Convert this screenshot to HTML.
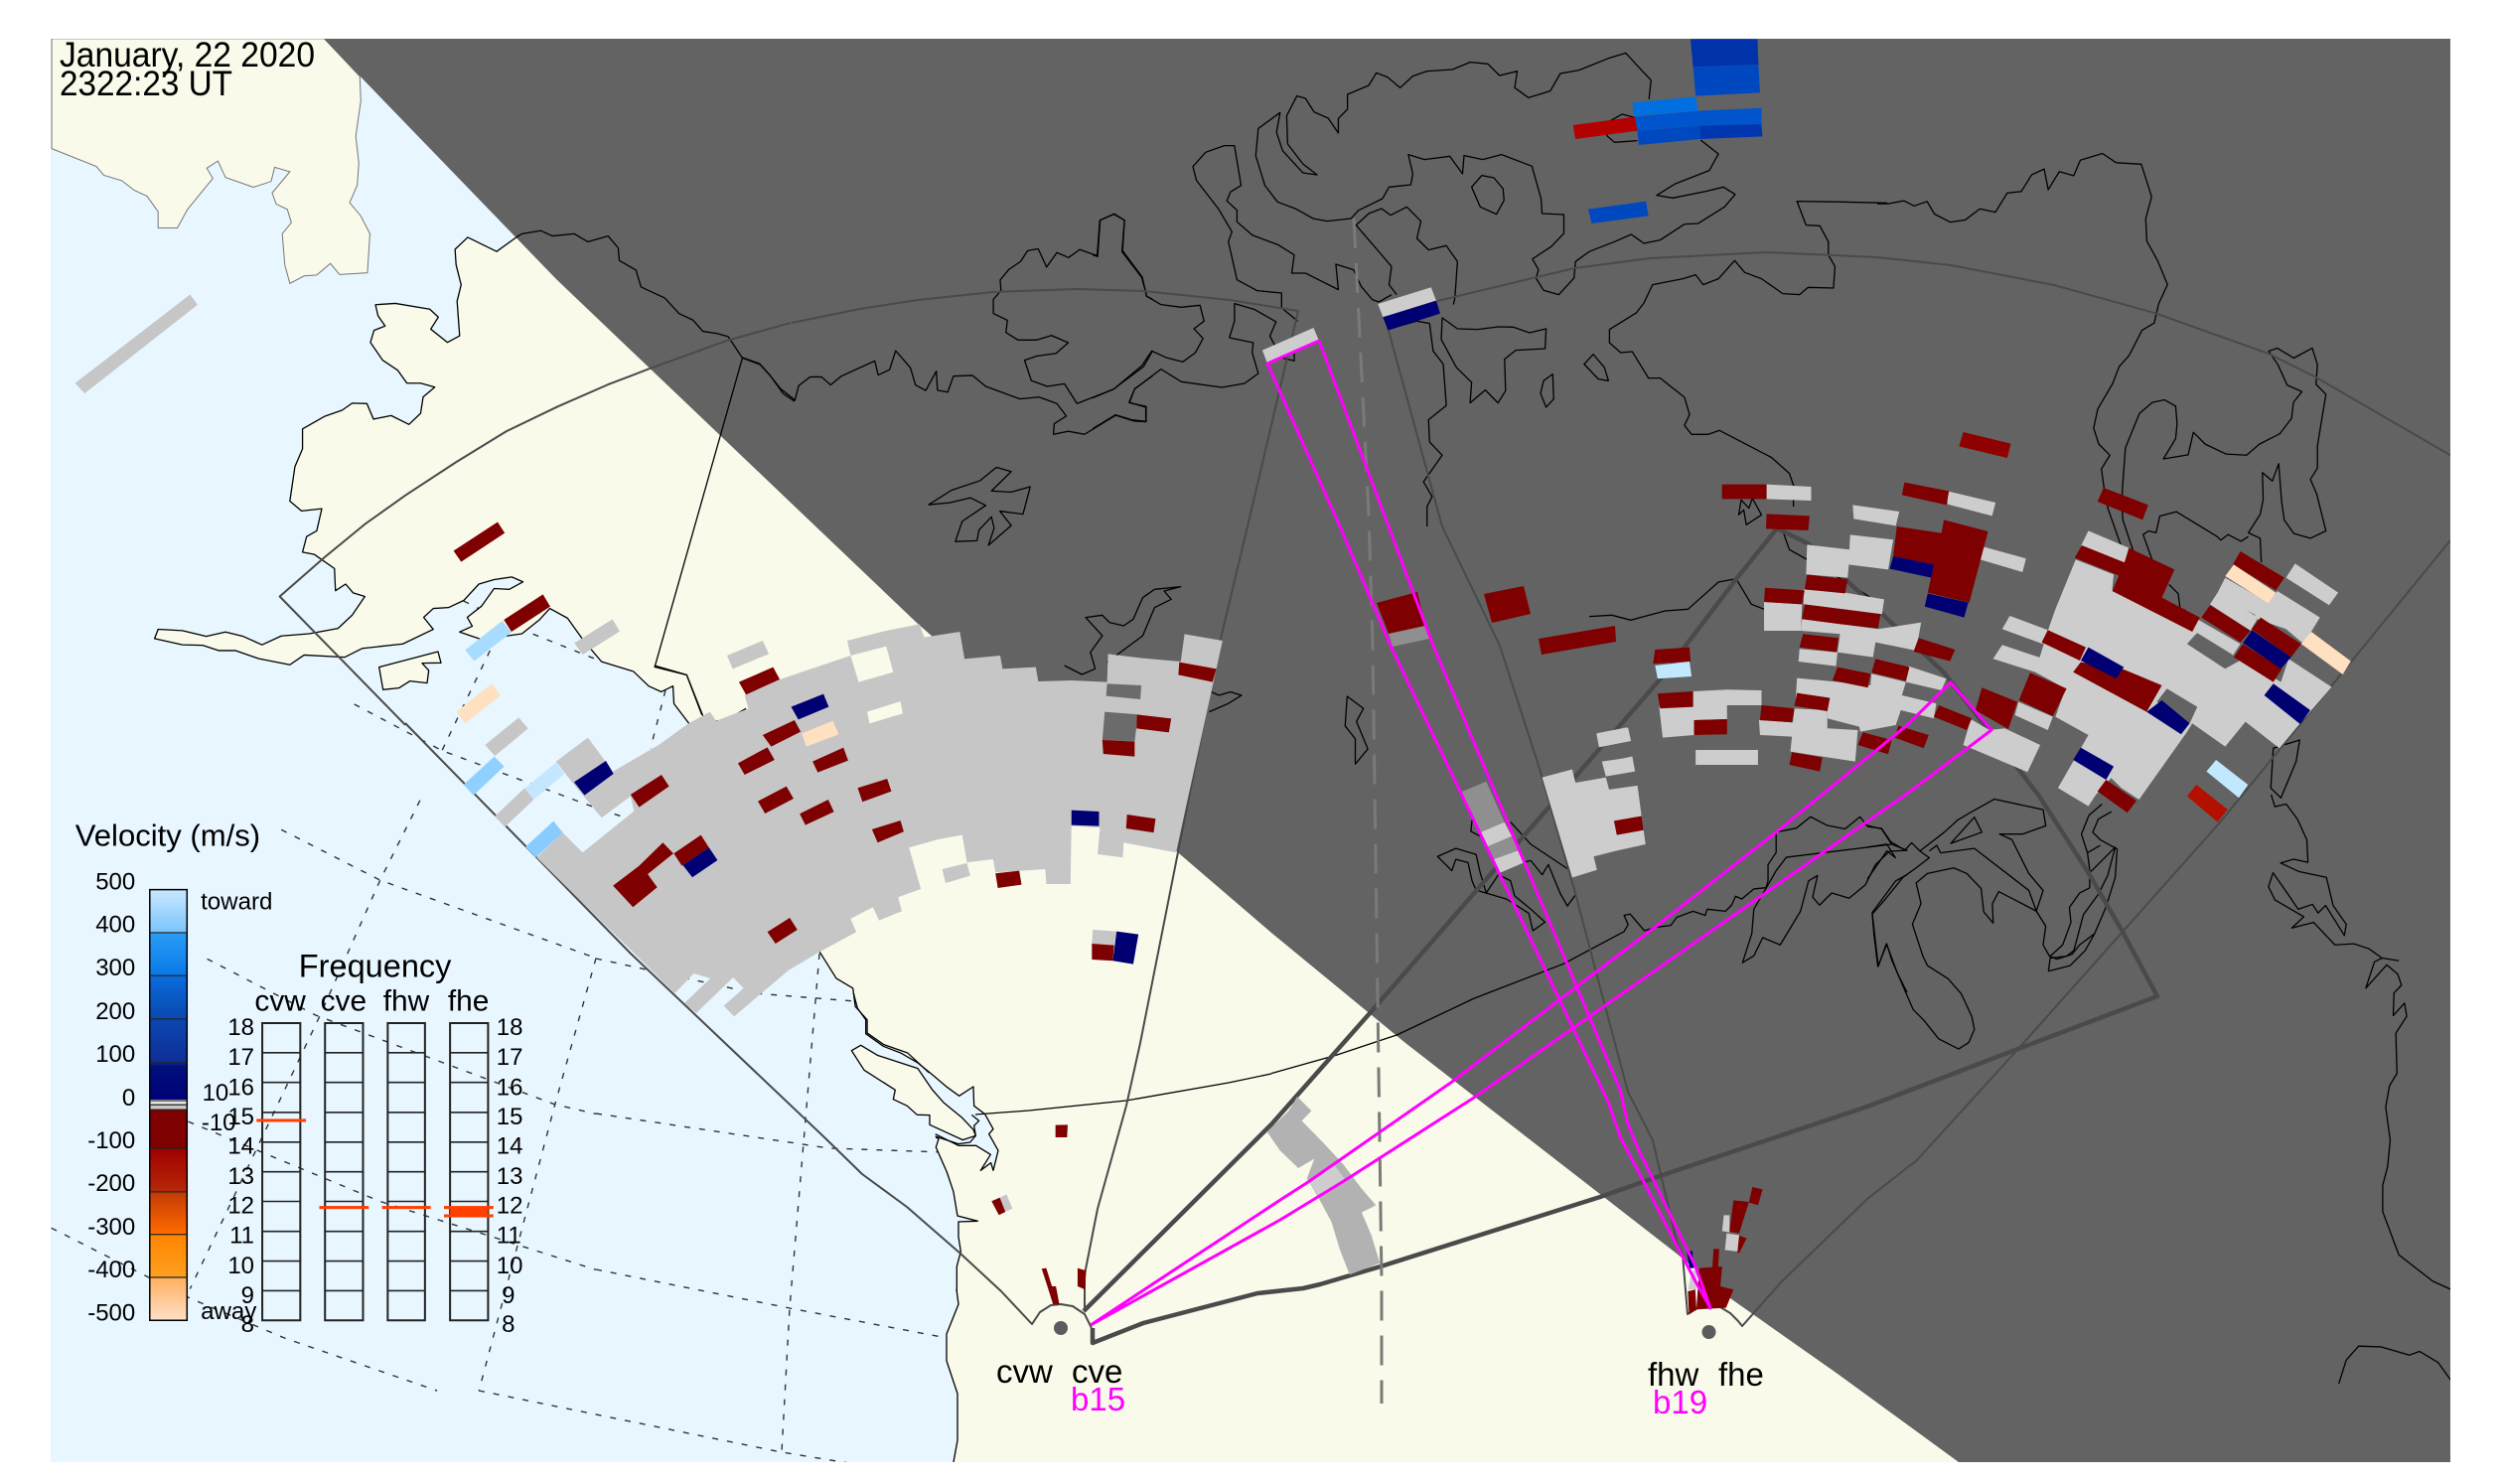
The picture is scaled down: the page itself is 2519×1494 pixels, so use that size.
<!DOCTYPE html>
<html><head><meta charset="utf-8"><style>
html,body{margin:0;padding:0;background:#fff}
svg{display:block}
polygon,polyline,line,rect{vector-effect:non-scaling-stroke}
text{font-family:"Liberation Sans",sans-serif;fill:#000}
.c{fill:none;stroke:#000;stroke-width:1.3;stroke-linejoin:round}
.f{fill:none;stroke:#4a4a4a;stroke-width:2;stroke-linejoin:round}
.t{fill:none;stroke:#4a4a4a;stroke-width:4.5;stroke-linejoin:round}
.d{fill:none;stroke:#333;stroke-width:1.4;stroke-dasharray:6 9}
.m{fill:none;stroke:#f0f;stroke-width:3;stroke-linejoin:round}
.land{fill:#f9faea}
</style></head><body>
<svg xmlns="http://www.w3.org/2000/svg" width="2519" height="1494" viewBox="0 0 2519 1494">
<defs>
<clipPath id="p"><rect x="51" y="39" width="2416" height="1433"/></clipPath>
<linearGradient id="cb" x1="0" y1="0" x2="0" y2="1">
<stop offset="0" stop-color="#c8e8ff"/><stop offset=".098" stop-color="#7cc4fb"/>
<stop offset=".1" stop-color="#2a9cf5"/><stop offset=".197" stop-color="#0a7ae8"/>
<stop offset=".2" stop-color="#0a6cdc"/><stop offset=".3" stop-color="#0a48b0"/>
<stop offset=".4" stop-color="#0f2e98"/><stop offset=".41" stop-color="#00107c"/><stop offset=".487" stop-color="#000078"/>
<stop offset=".488" stop-color="#e4e4e4"/><stop offset=".498" stop-color="#e4e4e4"/><stop offset=".499" stop-color="#c8c8c8"/><stop offset=".509" stop-color="#c8c8c8"/>
<stop offset=".51" stop-color="#7f0000"/><stop offset=".6" stop-color="#7f0000"/>
<stop offset=".601" stop-color="#a00000"/><stop offset=".7" stop-color="#b52808"/>
<stop offset=".702" stop-color="#c23a05"/><stop offset=".798" stop-color="#ff6a00"/>
<stop offset=".8" stop-color="#ff8400"/><stop offset=".9" stop-color="#ffa020"/>
<stop offset=".902" stop-color="#ffb060"/><stop offset="1" stop-color="#ffe0c8"/>
</linearGradient>
</defs>
<rect width="2519" height="1494" fill="#fff"/>
<g clip-path="url(#p)">
<rect x="51" y="39" width="2416" height="1433" fill="#e8f6ff"/>

<!-- lat/lon dashes on ocean -->
<g transform="translate(0,800) scale(.3827)">
<polyline class="d" points="740,92 1000,225 1568,430"/>
<polyline class="d" points="545,432 830,580 1460,815 1568,840"/>
<polyline class="d" points="495,860 1000,1070 1380,1190 1568,1250"/>
<polyline class="d" points="135,1140 500,1325 750,1430 1150,1568"/>
<polyline class="d" points="1105,15 1000,225 840,585 500,1300"/>
<polyline class="d" points="1568,430 1460,815 1260,1568"/>
</g>
<polyline class="d" points="600,965 760,1000 861,1008"/>
<polyline class="d" points="600,1121 835,1156 950,1160"/>
<polyline class="d" points="600,1278 795,1317 964,1349"/>
<polyline class="d" points="482,1400 787,1462 960,1490"/>
<polyline class="d" points="825,960 795,1317 787,1462"/>
<g transform="translate(330,560) scale(.3333)">
<polyline class="d" points="490,285 345,587"/>
<polyline class="d" points="80,447 345,587 810,760 900,790"/>
<polyline class="d" points="620,235 820,315"/>
<polyline class="d" points="410,135 470,165"/>
<polyline class="d" points="1020,405 975,580"/>
</g>

<!-- land -->
<g class="land">
<polygon transform="translate(0,30) scale(.5102,.4464)" points="102,268 190,308 205,328 240,340 265,362 290,375 312,410 312,447 350,447 370,405 420,335 408,312 430,296 445,333 500,355 535,342 542,310 572,320 537,368 545,393 567,405 575,435 557,460 562,530 572,572 600,555 625,553 652,527 670,552 725,548 730,460 712,420 690,390 705,350 708,300 702,240 712,160 710,105 640,20 102,20" style="stroke:#777;stroke-width:1"/>
<polygon transform="translate(0,30) scale(.5102,.4464)" points="1020,467 980,500 923,468 898,495 900,530 910,575 902,612 907,690 883,705 850,675 865,648 848,630 780,617 741,620 746,645 760,668 738,678 731,705 755,745 785,768 803,797 830,797 858,806 835,828 830,865 807,890 772,870 737,878 724,843 695,842 675,858 640,872 597,900 597,945 582,985 572,1063 595,1085 635,1080 625,1130 605,1143 597,1178 620,1183 660,1215 662,1265 682,1250 697,1270 720,1278 695,1320 667,1350 610,1362 555,1367 517,1387 480,1368 445,1358 407,1368 360,1355 312,1352 305,1373 360,1387 400,1388 432,1400 465,1400 510,1418 572,1432 600,1410 680,1415 715,1395 795,1385 855,1352 836,1325 855,1305 885,1303 915,1287 945,1250 975,1240 1010,1234 1032,1245 1005,1262 975,1260 950,1300 922,1325 932,1345 907,1358 950,1375 1030,1362 1065,1330 1085,1305 1120,1327 1150,1375 1187,1425 1250,1447 1280,1480 1305,1493 1328,1480 1330,1520 1360,1565 1385,1568 1568,1568 1568,467"/>
<polygon points="693,728 825,958 842,985 859,1000 2000,1000 2000,500 800,500"/>
<polygon transform="translate(830,1000) scale(.3333)" points="88,0 100,45 125,80 125,122 178,160 230,180 282,210 325,245 370,283 407,310 450,282 452,340 485,365 510,410 497,425 525,475 510,535 503,512 472,535 502,487 458,460 405,460 345,440 337,465 370,540 390,600 402,672 463,688 405,690 405,735 412,780 400,825 400,900 900,900 900,0"/>
<polygon points="963,1298 965,1313 953,1343 953,1370 964,1403 964,1450 960,1472 2000,1472 2000,1000 1130,1000 1130,1298"/>
<polygon transform="translate(830,1000) scale(.3333)" points="82,173 110,157 160,187 282,227 325,290 360,330 415,375 450,412 457,430 418,443 318,397 318,368 280,367 250,340 208,320 214,292 120,232"/>
<polygon transform="translate(330,560) scale(.3333)" points="155,335 333,288 342,322 285,323 305,345 300,383 248,377 215,398 167,403"/>
</g>

<!-- night overlay -->
<polygon points="326,39 2467,39 2467,1472 1972,1472 1850,1383 1742,1307 1688,1262 1415,1050 1280,939 1188,860 923,627 560,281" fill="#636363"/>

<!-- coastlines -->
<g transform="translate(0,30) scale(.5102,.4464)">
<polyline class="c" points="1385,1568 1360,1565 1330,1520 1328,1480 1305,1493 1280,1480 1250,1447 1187,1425 1150,1375 1120,1327 1085,1305 1065,1330 1030,1362 950,1375 907,1358 932,1345 922,1325 950,1300 975,1260 1005,1262 1032,1245 1010,1234 975,1240 945,1250 915,1287 885,1303 855,1305 836,1325 855,1352 795,1385 715,1395 680,1415 600,1410 572,1432 510,1418 465,1400 432,1400 400,1388 360,1387 305,1373 312,1352 360,1355 407,1368 445,1358 480,1368 517,1387 555,1367 610,1362 667,1350 695,1320 720,1278 697,1270 682,1250 662,1265 660,1215 620,1183 597,1178 605,1143 625,1130 635,1080 595,1085 572,1063 582,985 597,945 597,900 640,872 675,858 695,842 724,843 737,878 772,870 807,890 830,865 835,828 858,806 830,797 803,797 785,768 755,745 731,705 738,678 760,668 746,645 741,620 780,617 848,630 865,648 850,675 883,705 907,690 902,612 910,575 900,530 898,495 923,468 980,500 1020,467 1030,460 1067,453 1090,465 1133,460 1160,478 1200,465 1220,492 1222,520 1255,542 1265,580 1312,605 1340,640 1368,655 1387,680 1415,685 1437,692 1465,740 1500,755 1520,780 1545,820 1568,838"/>
<polyline class="c" points="1465,740 1292,1437 1355,1455 1385,1545"/>
</g>
<g transform="translate(500,580) scale(.4783,.3333)">
<polyline class="c" points="332,270 400,298 435,425"/>
<polyline class="c" points="462,437 480,437 525,400"/>
<polyline class="c" points="680,1135 715,1215 750,1245 755,1300 780,1340 780,1380 815,1415 865,1440 910,1500"/>
<polyline class="c" points="1195,270 1232,297 1260,280 1250,230 1275,180 1240,125 1275,118 1290,140 1320,150 1340,130 1360,65 1385,40 1440,32 1405,45 1420,70 1385,95 1360,180 1285,260"/>
<polyline class="c" points="1505,350 1520,360 1545,350 1568,360 1540,385 1500,410"/>
</g>
<g transform="translate(830,1000) scale(.3333)">
<polyline class="c" points="88,0 100,45 125,80 125,122 178,160 230,180 282,210 325,245 370,283 407,310 450,282 452,340 485,365 510,410 497,425 525,475 510,535 503,512 472,535 502,487 458,460 405,460 335,425"/>
<polyline class="c" points="337,435 345,440 337,465 370,540 390,600 402,672 463,688 405,690 405,735 412,780 400,825 400,900"/>
<polygon class="c" points="82,173 110,157 160,187 282,227 325,290 360,330 415,375 450,412 457,430 418,443 318,397 318,368 280,367 250,340 208,320 214,292 120,232"/>
<polyline class="c" points="445,367 467,385 452,400 457,430 440,450 405,455 335,432"/>
</g>
<polyline class="c" points="963,1298 965,1313 953,1343 953,1370 964,1403 964,1450 960,1472"/>
<polygon class="c" transform="translate(330,560) scale(.3333)" points="155,335 333,288 342,322 285,323 305,345 300,383 248,377 215,398 167,403"/>
<polyline class="c" points="982,1122 1036,1118 1134,1108 1237,1090 1280,1081"/>
<g transform="translate(560,40) scale(.3827)">
<polyline class="c" points="490,836 535,852 560,880 590,918 628,948 638,910 668,887 698,887 722,908 750,885 838,845 847,882 877,868 893,818 932,863 945,908 972,923 1000,872 1003,922 1030,927 1045,885 1095,883 1130,912 1220,945 1270,940 1317,957 1342,990 1310,1010 1308,1038 1347,1030 1390,1038 1472,988 1520,1003 1552,1005 1552,965 1508,955 1522,918 1568,885"/>
<polyline class="c" points="1568,820 1545,860 1465,920 1370,957 1337,905 1292,912 1250,897 1232,843 1265,832 1315,825 1347,797 1303,778 1263,790 1215,790 1183,770 1187,738 1150,720 1150,683 1170,660 1168,632 1190,605 1222,583 1240,555 1268,550 1290,598 1317,560 1348,573 1377,552 1423,568 1430,475 1468,458 1495,475 1490,555 1542,625 1553,675 1568,682"/>
<polygon class="c" points="980,1223 1040,1185 1115,1160 1158,1125 1197,1136 1145,1187 1197,1190 1247,1176 1228,1248 1167,1240 1197,1278 1137,1330 1152,1285 1145,1255 1112,1290 1107,1318 1050,1320 1068,1267 1130,1225 1090,1205 1035,1218"/>
</g>
<g transform="translate(1100,30) scale(.5102,.3333)">
<polyline class="c" points="0,680 10,685 15,575 42,557 63,575 58,670 97,748 107,805 135,830 175,838 212,832 220,880 200,903 218,932 203,975 178,1003 145,990 117,970 97,1015 42,1085 0,1112"/>
<polyline class="c" points="0,1205 45,1163 77,1178 105,1183 105,1140 72,1125 83,1085 135,1025 175,1063 255,1080 300,1068 327,1038 315,975 317,945 270,930 280,880 280,827 320,845 362,882 350,925 372,990 398,1000 398,960"/>
<polyline class="c" points="405,880 373,840 373,795 325,788 285,755 268,640 275,610 248,540 205,455 198,413 223,370 260,350 280,350 293,470 272,490 265,517 285,545 285,580 315,620 367,650 398,680 393,735 420,735 485,785 480,708 515,725 530,775 552,815 565,822 590,800"/>
<polyline class="c" points="1200,333 1235,375 1217,425 1150,465 1113,500 1145,508 1210,488 1245,475 1268,497 1247,535 1195,585 1168,587 1120,635 1088,645 1063,618 1030,640 980,670 953,700 950,750 920,800 890,787 875,750 880,725 868,692 905,655 930,615 930,558 887,555 885,510 867,412 807,377 770,392 733,380 730,435 705,382 655,392 623,377 632,435 628,468 585,475 572,510 525,545 510,570 463,578 435,570 400,540 365,520 340,470 322,380 327,298 370,250 363,310 375,365 415,432 443,438 415,405 385,345 383,260 403,200 420,207 437,248 465,267 485,312 485,268 503,240 503,195 545,168 560,130 582,143 607,175 632,140 660,125 710,120 745,98 780,103 803,138 838,125 833,175 860,205 903,185 923,132 960,122 1020,85 1052,70 1082,120 1102,152 1098,210"/>
<polyline class="c" points="1070,265 1045,255 1010,285 1015,320 1030,340 1075,335"/>
<polygon class="c" points="768,440 792,447 810,480 812,515 797,557 765,535 748,475"/>
<polyline class="c" points="712,830 715,810 720,700 698,652 663,665 640,630 648,578 620,535 588,560 570,540 545,555 520,590 590,715 585,770 600,800"/>
<polygon class="c" points="690,870 720,903 760,905 800,897 830,898 862,915 895,903 893,963 835,968 813,995 815,1090 800,1127 775,1088 745,1127 748,1065 718,1020 688,935"/>
<polyline class="c" points="582,905 640,880 665,887 672,970 692,1010 698,1135 663,1178 665,1245 690,1285 653,1365 670,1410 660,1440 660,1500"/>
<polygon class="c" points="988,980 1010,1020 1018,1060 998,1055 970,1010"/>
<polygon class="c" points="908,1040 910,1115 895,1140 884,1098 890,1060"/>
<polyline class="c" points="1568,523 1480,520 1390,518 1408,590 1435,592 1452,640 1452,680 1465,715 1462,780 1412,778 1395,800 1362,797 1320,752 1287,733 1267,697 1235,752 1205,770 1190,740 1165,752 1105,770 1088,825 1073,855 1020,905 1020,945 1042,975 1065,972 1097,1052 1120,1052 1168,1110 1178,1162 1168,1195 1182,1222 1215,1222 1237,1210 1340,1292 1375,1340 1383,1375 1383,1440"/>
<polygon class="c" points="1275,1465 1280,1420 1295,1445 1302,1415 1320,1465 1290,1495 1285,1450"/>
</g>
<g transform="translate(1600,400) scale(.5102,.3333)">
<polyline class="c" points="0,662 45,658 82,673 150,645 195,640 255,558 290,548 320,625 345,640"/>
<polyline class="c" points="380,395 395,460 430,490 510,560 560,610"/>
<polygon class="c" points="1350,1060 1402,1035 1395,1100 1365,1210 1345,1180"/>
</g>
<g transform="translate(1890,40) scale(.3718)">
<polyline class="c" points="0,444 30,444 72,436 100,450 135,438 155,472 198,494 238,488 278,458 320,467 352,415 390,411 418,366 452,350 463,406 493,357 532,368 550,326 610,308 647,333 715,337 743,425 727,485 730,545 760,600 786,663 762,715 750,767 717,787 682,855 655,885 638,930 597,1000 586,1052 600,1095 630,1125 607,1162 615,1220 625,1270 660,1370"/>
<polyline class="c" points="695,1390 665,1300 662,1250 665,1200 672,1105 710,1012 745,982 778,975 808,992 812,1040 808,1080 775,1135 842,1124 856,1063 888,1095 945,1122 1000,1125 1035,1095 1090,1067 1122,1025 1127,982 1150,953 1110,935 1085,880 1060,843 1083,835 1128,862 1178,835 1192,880 1188,933 1215,960 1205,1020 1192,1100 1192,1160 1173,1190 1190,1230 1215,1330 1173,1350 1128,1337 1102,1300 1095,1250 1087,1148 1070,1195 1043,1172 1045,1245 1037,1285 1005,1335 1037,1350 1040,1415"/>
<polyline class="c" points="745,1410 720,1340 735,1330 755,1335 765,1290 810,1278 920,1345 930,1355 950,1340 985,1358 1005,1345"/>
<polyline class="c" points="790,1475 815,1500 820,1540 835,1545"/>
</g>
<g transform="translate(1280,650) scale(.4082)">
<polyline class="c" points="0,1055 160,1010 310,960 500,870 720,785 870,705 880,688 870,665 885,662 920,703 945,695 985,690 1000,670 1040,655 1070,665 1075,650 1120,655 1135,640 1145,618 1160,625 1190,600 1220,597 1225,580 1225,540 1245,510 1245,460 1295,450 1330,422 1370,443 1415,452 1452,422 1468,443 1505,452 1530,490 1568,505 1525,507 1490,540 1465,590 1425,623 1382,610 1352,640 1335,620 1347,567 1325,580 1305,655 1255,738 1212,720 1190,765 1162,782 1185,710 1190,650 1225,590 1245,555 1270,522 1530,490"/>
<polyline class="c" points="1568,565 1540,580 1482,658 1490,730 1497,790 1517,735 1545,810 1568,855"/>
<polygon class="c" points="187,125 227,155 210,187 238,255 207,292 207,230 182,198"/>
<polygon class="c" points="410,520 445,555 455,527 485,535 495,580 505,603 580,625 635,660 645,703 675,682 640,650 600,617 590,580 560,565 530,610 515,560 505,515 455,500"/>
<polyline class="c" points="495,430 492,458 515,470"/>
<polyline class="c" points="590,435 640,490 730,550"/>
<polyline class="c" points="620,535 640,530 668,565 683,540 712,610 730,642 750,615"/>
</g>
<g transform="translate(1880,800) scale(.3782)">
<polyline class="c" points="0,85 38,90 62,125 100,148 118,128 140,150 165,168 130,195 95,220 48,278 13,318 18,375 28,458 52,398 65,440 122,572 150,600 190,650 243,677 270,660 285,625 278,590 250,530 215,490 160,455 148,430 120,345 143,290 130,235 160,210 230,195 265,210 303,250 310,312 335,342 333,290 350,258 450,310 468,255 430,210 385,120 352,105 413,105 475,83 468,40 338,12 270,50 240,68 205,100 140,150"/>
<polygon class="c" points="222,130 285,60 305,100"/>
<polyline class="c" points="0,140 52,132 75,168 52,150 0,225"/>
<polyline class="c" points="165,150 185,135 195,155 285,143 430,255 450,310 475,350 468,400 485,430 505,438 545,425 565,400 605,370"/>
<polyline class="c" points="482,470 540,455 580,415 605,370 635,300 660,220 665,145 620,120 600,100 615,65 650,45"/>
<polyline class="c" points="586,155 570,105 590,55 625,25"/>
<polyline class="c" points="586,155 620,135"/>
<polyline class="c" points="595,205 660,140 640,215 615,265 575,320 550,415 530,430 487,435 482,470"/>
<polyline class="c" points="487,430 520,400 542,340 538,300 565,262 592,248 592,200 586,155"/>
<polyline class="c" points="1075,0 1085,32 1115,25 1145,65 1170,120 1173,180 1135,172 1100,182 1150,205 1222,220 1240,295 1275,345 1270,375 1220,295 1200,315 1185,292 1147,305 1120,265 1080,208 1068,245 1085,280 1162,325 1130,355 1188,340 1245,400 1295,397 1335,410 1370,435 1415,442"/>
<polyline class="c" points="1370,435 1350,445 1327,515 1383,453 1412,478 1422,507 1402,528 1400,588 1430,555 1436,590 1407,635 1410,742 1390,775 1380,832 1392,920 1385,990 1372,1040 1372,1110 1415,1225 1505,1295 1560,1320"/>
<polyline class="c" points="1255,1568 1275,1505 1308,1468 1368,1470 1443,1492 1470,1482 1520,1512 1560,1568"/>
</g>

<!-- FOV outlines -->
<polyline class="f" points="1092,1317 1092,1283 1105,1217 1134,1113 1148,1050 1186,858 1229,643 1256,530 1307,313 1238,302 1151,293 1084,291 1000,294 924,302 866,311 797,325"/>
<g transform="translate(0,30) scale(.5102,.4464)"><polyline class="f" points="1560,661 1437,700 1280,765 1200,800 1100,850 1000,905 900,975 800,1050 720,1115 640,1190 552,1278 800,1568"/></g>
<polyline class="f" points="408,728 635,960 830,1145 868,1182 913,1215 967,1262 1008,1300 1039,1333 1047,1321 1058,1314 1068,1313 1080,1315 1092,1323 1099,1337"/>
<polyline class="f" points="1398,333 1452,530 1510,650 1551,777 1586,899 1616,1013 1639,1099 1664,1148 1688,1250 1694,1263 1699,1323 1709,1317 1721,1315 1732,1316 1742,1322 1750,1330 1754,1335 1794,1290 1880,1207 1922,1174 1929,1169 2031,1057 2235,828 2400,626 2467,544"/>
<polyline class="f" points="1447,303 1585,270 1661,260 1779,254 1890,259 1964,267 2068,287 2169,315 2284,356 2332,380 2470,460"/>
<polyline class="t" points="1091,1320 1280,1132 1380,1019 1672,683 1748,583 1789,532 1820,547 1957,677 2052,800 2101,876 2137,938 2172,1003 2029,1057 1880,1114 1668,1185 1611,1205 1390,1275 1329,1293 1312,1297 1266,1302 1151,1332 1100,1352 1100,1337"/>
<polyline fill="none" stroke="#7a7a7a" stroke-width="3" stroke-dasharray="30 15" points="1363,220 1378,517 1382,650 1391,1290 1391,1413"/>

<!-- light grey cells on daylit side -->
<g fill="#c6c6c6">
<polygon transform="translate(0,30) scale(.5102,.4464)" points="148,797 375,597 390,620 167,820"/>
<polygon transform="translate(500,580) scale(.4783,.3333)" points="84,850 139,775 181,835 289,710 282,665 221,730 163,630 125,560 192,488 245,590 341,510 404,445 449,410 462,437 530,400 522,360 600,310 745,240 738,195 820,165 890,145 900,185 975,168 985,250 1060,240 1065,280 1135,275 1140,318 1210,315 1285,320 1287,235 1360,248 1440,258 1448,175 1528,195 1430,835 1320,805 1318,850 1265,840 1270,760 1210,755 1208,930 1157,930 1155,885 1105,890 1050,895 1045,855 990,865 980,782 930,795 868,820 893,945 845,970 853,1012 805,1040 792,1000 745,1035 757,1075 680,1135 615,1190 500,1330 478,1298 520,1245 498,1212 420,1320 395,1290 450,1215 415,1200 375,1260"/>
<g transform="translate(500,580) scale(.4783,.3333)">
<polygon points="485,240 560,195 573,235 497,280"/>
<polygon points="1255,1068 1305,1073 1300,1115 1253,1110"/>
<polygon points="938,885 990,867 997,905 945,927"/>
</g>
<g transform="translate(330,560) scale(.3333)">
<polygon points="745,262 860,190 882,227 770,297"/>
<polygon points="475,570 577,487 605,520 505,603"/>
<polygon points="505,785 595,700 622,735 535,818"/>
</g>
</g>
<g transform="translate(500,580) scale(.4783,.3333)">
<polygon class="land" points="745,240 820,212 835,290 762,320"/>
<polygon class="land" points="780,410 850,378 855,415 785,445"/>
<polygon fill="#6b6b6b" points="1285,325 1357,330 1355,372 1283,362"/>
<polygon fill="#6b6b6b" points="1280,410 1350,418 1343,500 1275,495"/>
</g>
<g transform="translate(330,560) scale(.3333)">
<polygon fill="#a8dcff" points="415,283 527,195 555,230 442,317"/>
<polygon fill="#90d0ff" points="410,690 503,605 533,635 440,722"/>
<polygon fill="#88ccff" points="597,878 682,800 710,835 628,910"/>
<polygon fill="#c5e6ff" points="597,700 690,622 715,657 622,735"/>
<polygon fill="#ffe0c0" points="388,470 495,385 522,420 415,505"/>
<polygon fill="#7f0000" points="532,192 650,115 672,152 555,228"/>
</g>
<g fill="#7f0000">
<polygon transform="translate(0,30) scale(.5102,.4464)" points="895,1175 982,1110 996,1135 910,1200"/>
<g transform="translate(500,580) scale(.4783,.3333)">
<polygon points="510,320 582,275 596,312 525,358"/>
<polygon points="560,480 627,435 640,470 578,515"/>
<polygon points="508,565 570,517 585,555 522,600"/>
<polygon points="665,560 730,518 740,557 676,593"/>
<polygon points="760,640 822,612 831,650 770,682"/>
<polygon points="550,680 610,635 625,672 565,717"/>
<polygon points="638,718 698,675 710,712 650,752"/>
<polygon points="790,765 850,738 857,772 802,805"/>
<polygon points="282,660 347,600 363,635 300,698"/>
<polygon points="373,838 430,782 447,820 390,875"/>
<polygon points="245,935 300,875 350,805 372,838 318,900 338,940 287,1000"/>
<polygon points="570,1075 617,1032 633,1068 587,1110"/>
<polygon points="1050,898 1100,890 1105,932 1055,942"/>
<polygon points="1275,495 1343,500 1343,545 1277,537"/>
<polygon points="1348,418 1420,430 1415,472 1347,460"/>
<polygon points="1437,260 1515,280 1507,320 1435,298"/>
<polygon points="1327,720 1387,733 1383,775 1325,762"/>
<polygon points="1253,1110 1300,1115 1297,1162 1253,1158"/>
</g>
<g transform="translate(830,1000) scale(.3333)">
<polygon points="698,398 735,397 733,435 698,435"/>
<polygon points="505,628 530,617 547,660 527,670"/>
</g>
<g transform="translate(950,1050) scale(.5742,.3333)">
<polygon points="172,682 180,680 190,735 197,735 203,790 192,790 182,735"/>
<polygon points="235,680 250,688 248,745 235,735"/>
<polygon points="1325,680 1365,675 1362,735 1385,745 1372,800 1320,805"/>
<polygon points="1350,622 1360,622 1358,680 1348,680"/>
<polygon points="1305,750 1318,745 1320,805 1307,820"/>
<polygon points="1418,435 1436,442 1428,490 1412,482"/>
<polygon points="1385,475 1412,480 1395,575 1378,570"/>
<polygon points="1395,582 1408,590 1395,635 1390,630"/>
</g>
</g>
<polygon transform="translate(830,1000) scale(.3333)" fill="#c6c6c6" points="530,617 550,607 568,650 547,660"/>
<g fill="#000073" transform="translate(500,580) scale(.4783,.3333)">
<polygon points="620,395 688,356 699,395 635,433"/>
<polygon points="1210,707 1268,711 1268,755 1210,752"/>
<polygon points="163,622 230,558 246,597 185,662"/>
<polygon points="392,873 447,820 465,858 412,910"/>
<polygon points="1305,1073 1351,1082 1340,1172 1297,1162"/>
</g>
<polygon transform="translate(500,580) scale(.4783,.3333)" fill="#ffe0c0" points="642,475 708,437 720,478 652,515"/>
<g transform="translate(950,1050) scale(.5742,.3333)">
<polygon fill="#000073" points="1303,630 1313,628 1315,680 1308,680"/>
<polygon fill="#cdcdcd" points="1312,690 1322,680 1320,745 1305,745"/>
<polygon fill="#cdcdcd" points="1368,520 1378,520 1378,572 1365,568"/>
<polygon fill="#cdcdcd" points="1373,575 1395,580 1392,630 1370,625"/>
<polygon fill="#b2b2b2" points="620,162 645,205 628,235 665,300 700,365 733,440 758,490 733,512 750,580 765,665 712,700 695,625 680,540 655,460 637,410 650,350 622,378 590,325 567,268 605,205"/>
<polygon fill="#cdcdcd" points="640,420 685,368 703,410 657,460"/>
</g>

<!-- night side cells -->
<polygon fill="#7f0000" points="1386,607 1427,596 1435,630 1398,638"/>
<polygon fill="#8f8f8f" points="1398,638 1435,630 1439,643 1402,651"/>
<polygon fill="#7f0000" points="1494,598 1534,590 1541,618 1502,627"/>
<polygon fill="#7f0000" points="1549,643 1626,630 1627,646 1552,659"/>
<g transform="translate(1280,650) scale(.4082)">
<polygon fill="#cdcdcd" points="668,325 742,305 750,338 825,325 833,355 903,345 913,420 923,490 855,505 795,520 803,553 742,572"/>
<polygon fill="#7f0000" points="845,432 913,420 918,455 852,467"/>
<polygon fill="#cdcdcd" points="802,218 880,203 887,235 808,250"/>
<polygon fill="#cdcdcd" points="817,290 890,273 897,310 825,322"/>
<polygon fill="#8f8f8f" points="470,360 530,335 575,435 512,462"/>
<polygon fill="#cdcdcd" points="512,462 575,435 593,470 530,497"/>
<polygon fill="#8f8f8f" points="530,497 593,470 610,505 548,527"/>
<polygon fill="#cdcdcd" points="548,527 610,505 623,535 560,562"/>
</g>
<g transform="translate(1600,400) scale(.5102,.3333)">
<g fill="#cdcdcd">
<polygon points="350,263 438,270 438,312 350,307"/>
<polygon points="520,325 612,345 605,388 522,367"/>
<polygon points="707,283 802,318 795,358 707,323"/>
<polygon points="770,448 862,487 855,528 772,490"/>
<polygon points="430,445 515,460 510,545 428,535"/>
<polygon points="515,415 600,430 590,520 512,505"/>
<polygon points="423,580 505,590 582,610 578,655 500,640 423,625"/>
<polygon points="345,618 420,625 418,705 345,705"/>
<polygon points="420,670 495,685 570,700 655,680 645,765 565,740 560,785 490,770 495,715 418,705"/>
<polygon points="415,760 490,770 487,812 413,798"/>
<polygon points="630,812 705,850 695,885 625,860"/>
<polygon points="410,848 480,858 555,870 557,835 625,860 617,900 685,925 680,970 615,945 605,990 535,1010 533,995 470,970 470,940 407,925"/>
<polygon points="205,888 272,883 340,885 340,930 272,930 272,972 207,975 207,1020 145,1028 138,935 205,935"/>
<polygon points="335,975 402,982 405,940 470,945 470,1000 530,1005 525,1100 460,1085 397,1070 400,1025 337,1020"/>
<polygon points="210,1065 333,1065 333,1110 210,1110"/>
<polygon points="15,1015 75,997 82,1038 20,1057"/>
<polygon points="25,1100 85,1087 90,1130 33,1145"/>
<polygon points="815,700 830,660 905,703 895,745"/>
<polygon points="797,790 815,748 897,790 880,830"/>
<polygon points="738,1050 753,972 790,1005 820,1000 890,1050 865,1132"/>
<polygon points="840,960 847,920 915,965 905,1005"/>
<polygon points="970,450 985,403 1065,455 1058,500"/>
<polygon points="960,490 1035,535 1032,580 1200,710 1180,745 1255,820 1290,790 1365,860 1380,790 1465,875 1400,990 1362,1060 1295,980 1255,1055 1190,985 1180,1010 1085,1215 1050,1180 1030,1150 1000,1200 985,1235 925,1180 985,1020 920,965 940,880 880,830 905,705 920,640"/>
<polygon points="1200,670 1285,745 1270,780 1190,710"/>
<polygon points="1240,590 1255,545 1340,620 1325,665 1240,600"/>
<polygon points="1340,620 1358,585 1442,665 1410,745 1375,700 1310,665"/>
<polygon points="1375,545 1393,502 1478,590 1460,628"/>
<polygon points="1225,625 1240,590 1320,665 1305,705"/>
</g>
<polygon fill="#636363" points="1180,745 1200,712 1270,778 1255,820"/>
<polygon fill="#636363" points="1120,920 1140,880 1200,935 1185,985"/>
<g fill="#7f0000">
<polygon points="958,485 972,447 1058,500 1048,540"/>
<polygon points="1065,455 1155,520 1130,605 1205,665 1190,708 1032,585 1055,505"/>
<polygon points="1270,505 1285,465 1372,545 1355,583"/>
<polygon points="1208,665 1225,628 1305,705 1285,740"/>
<polygon points="1307,700 1325,665 1405,745 1385,785"/>
<polygon points="1272,785 1290,745 1367,820 1350,860"/>
<polygon points="893,740 905,703 980,755 968,795"/>
<polygon points="955,830 970,800 1055,822 1130,870 1100,950"/>
<polygon points="848,915 870,832 942,880 915,963"/>
<polygon points="762,945 775,877 845,920 827,1002"/>
<polygon points="680,965 690,930 755,970 745,1005"/>
<polygon points="530,1050 540,1012 597,1035 590,1078"/>
<polygon points="603,1028 610,992 670,1020 660,1060"/>
<polygon points="395,1110 400,1072 460,1088 455,1130"/>
<polygon points="337,975 340,930 405,940 400,982"/>
<polygon points="405,932 410,893 475,908 470,948"/>
<polygon points="207,975 272,972 272,1018 207,1020"/>
<polygon points="135,895 205,888 205,935 140,940"/>
<polygon points="480,855 490,815 555,835 550,877"/>
<polygon points="557,832 565,790 632,815 625,857"/>
<polygon points="640,768 650,727 722,762 712,797"/>
<polygon points="415,755 422,715 492,727 488,770"/>
<polygon points="420,670 425,625 500,640 575,655 570,698 495,685"/>
<polygon points="425,580 430,535 510,550 505,592"/>
<polygon points="345,618 347,575 425,583 420,625"/>
<polygon points="262,263 350,263 350,307 262,307"/>
<polygon points="349,397 350,352 435,358 432,402"/>
<polygon points="617,295 622,257 710,283 705,325"/>
<polygon points="1003,315 1015,273 1103,325 1092,370"/>
<polygon points="600,480 607,390 695,410 700,370 787,405 750,620 668,590 680,505"/>
<polygon points="126,805 130,762 198,755 200,798"/>
<polygon points="1003,1190 1020,1155 1080,1218 1062,1255"/>
</g>
<polygon fill="#8f0000" points="730,148 738,105 832,140 825,183"/>
<polygon fill="#b31000" points="1180,1205 1198,1170 1260,1245 1240,1283"/>
<g fill="#000073">
<polygon points="593,518 600,480 680,505 675,545"/>
<polygon points="662,632 668,592 748,620 740,665"/>
<polygon points="970,795 985,755 1055,815 1040,850"/>
<polygon points="1100,950 1130,915 1185,985 1168,1018"/>
<polygon points="1290,742 1308,703 1385,785 1365,820"/>
<polygon points="1332,900 1350,865 1423,945 1403,987"/>
<polygon points="955,1095 970,1058 1035,1115 1020,1155"/>
</g>
<polygon fill="#ffe0c0" points="1405,745 1425,708 1503,797 1487,837"/>
<polygon fill="#ffe0c0" points="1255,540 1272,505 1355,590 1340,622"/>
<polygon fill="#c2e8ff" points="130,810 198,798 202,843 135,850"/>
<polygon fill="#c2e8ff" points="1218,1130 1237,1095 1300,1170 1282,1210"/>
</g>
<g transform="translate(1100,30) scale(.5102,.3333)">
<polygon fill="#0033aa" points="1180,28 1312,28 1314,105 1185,112"/>
<polygon fill="#0048c0" points="1185,112 1314,105 1317,190 1190,200"/>
<polygon fill="#0070e0" points="1065,220 1190,202 1195,245 1068,260"/>
<polygon fill="#0055cc" points="1068,262 1195,245 1320,236 1320,285 1198,290 1073,305"/>
<polygon fill="#0048c0" points="1075,305 1198,290 1200,330 1078,348"/>
<polygon fill="#0036b0" points="1198,290 1320,285 1322,322 1200,330"/>
<polygon fill="#b30000" points="948,288 1070,263 1075,305 953,330"/>
<polygon fill="#0048c0" points="978,542 1092,518 1097,562 985,585"/>
<polygon fill="#cdcdcd" points="563,828 668,778 678,818 573,868"/>
<polygon fill="#000073" points="573,868 678,818 686,857 583,908"/>
<polygon fill="#cdcdcd" points="335,968 436,900 447,940 345,1008"/>
</g>

<!-- radars -->
<ellipse cx="1068" cy="1337" rx="7" ry="7" fill="#5c5c5c"/>
<ellipse cx="1720.5" cy="1341" rx="7" ry="7" fill="#5c5c5c"/>

<!-- beams -->
<polyline class="m" points="1328,343 1398,530 1443,650 1631,1097 1639,1132 1649,1156 1707,1275 1722,1317 1707,1290 1631,1144 1619,1109 1400,650 1349,530 1276,366 1328,343"/>
<polyline class="m" points="1098,1334 1289,1208 1317,1190 1462,1089 1668,932 1788,838 1920,730 1964,687 2005,735 1920,799 1484,1105 1353,1189 1289,1228 1098,1334"/>

<!-- legend -->
<g transform="translate(0,800) scale(.3827)">
<rect x="394" y="250" width="98" height="1133" fill="url(#cb)" stroke="#000" stroke-width="1.5"/>
<g stroke="#222" stroke-width="1.2">
<line x1="394" x2="492" y1="363" y2="363"/><line x1="394" x2="492" y1="476" y2="476"/><line x1="394" x2="492" y1="590" y2="590"/><line x1="394" x2="492" y1="705" y2="705"/><line x1="394" x2="492" y1="805" y2="805"/><line x1="394" x2="492" y1="816" y2="816"/><line x1="394" x2="492" y1="829" y2="829"/><line x1="394" x2="492" y1="931" y2="931"/><line x1="394" x2="492" y1="1045" y2="1045"/><line x1="394" x2="492" y1="1157" y2="1157"/><line x1="394" x2="492" y1="1270" y2="1270"/>
</g>
<g fill="none" stroke="#222" stroke-width="2">
<rect x="690" y="601" width="100" height="782"/><rect x="855" y="601" width="100" height="782"/><rect x="1020" y="601" width="98" height="782"/><rect x="1184" y="601" width="100" height="782"/>
</g>
<g stroke="#222" stroke-width="1.6">
<line x1="690" x2="790" y1="679" y2="679"/><line x1="690" x2="790" y1="757" y2="757"/><line x1="690" x2="790" y1="836" y2="836"/><line x1="690" x2="790" y1="914" y2="914"/><line x1="690" x2="790" y1="992" y2="992"/><line x1="690" x2="790" y1="1070" y2="1070"/><line x1="690" x2="790" y1="1149" y2="1149"/><line x1="690" x2="790" y1="1227" y2="1227"/><line x1="690" x2="790" y1="1305" y2="1305"/>
<line x1="855" x2="955" y1="679" y2="679"/><line x1="855" x2="955" y1="757" y2="757"/><line x1="855" x2="955" y1="836" y2="836"/><line x1="855" x2="955" y1="914" y2="914"/><line x1="855" x2="955" y1="992" y2="992"/><line x1="855" x2="955" y1="1070" y2="1070"/><line x1="855" x2="955" y1="1149" y2="1149"/><line x1="855" x2="955" y1="1227" y2="1227"/><line x1="855" x2="955" y1="1305" y2="1305"/>
<line x1="1020" x2="1118" y1="679" y2="679"/><line x1="1020" x2="1118" y1="757" y2="757"/><line x1="1020" x2="1118" y1="836" y2="836"/><line x1="1020" x2="1118" y1="914" y2="914"/><line x1="1020" x2="1118" y1="992" y2="992"/><line x1="1020" x2="1118" y1="1070" y2="1070"/><line x1="1020" x2="1118" y1="1149" y2="1149"/><line x1="1020" x2="1118" y1="1227" y2="1227"/><line x1="1020" x2="1118" y1="1305" y2="1305"/>
<line x1="1184" x2="1284" y1="679" y2="679"/><line x1="1184" x2="1284" y1="757" y2="757"/><line x1="1184" x2="1284" y1="836" y2="836"/><line x1="1184" x2="1284" y1="914" y2="914"/><line x1="1184" x2="1284" y1="992" y2="992"/><line x1="1184" x2="1284" y1="1070" y2="1070"/><line x1="1184" x2="1284" y1="1149" y2="1149"/><line x1="1184" x2="1284" y1="1227" y2="1227"/><line x1="1184" x2="1284" y1="1305" y2="1305"/>
</g>
<g fill="#ff4000">
<rect x="675" y="853" width="130" height="8"/>
<rect x="840" y="1082" width="130" height="8"/>
<rect x="1005" y="1082" width="128" height="8"/>
<rect x="1168" y="1082" width="130" height="8"/>
<rect x="1184" y="1086" width="100" height="24"/>
<rect x="1168" y="1104" width="130" height="8"/>
</g>
<g font-size="62.7" text-anchor="end">
<text x="356" y="250">500</text><text x="356" y="362">400</text><text x="356" y="475">300</text><text x="356" y="590">200</text><text x="356" y="703">100</text><text x="356" y="818">0</text><text x="356" y="930">-100</text><text x="356" y="1043">-200</text><text x="356" y="1157">-300</text><text x="356" y="1270">-400</text><text x="356" y="1383">-500</text>
</g>
<text x="198" y="135" font-size="80" textLength="487" lengthAdjust="spacingAndGlyphs">Velocity (m/s)</text>
<text x="528" y="302" font-size="63">toward</text>
<text x="528" y="1380" font-size="63">away</text>
<text x="532" y="805" font-size="62.7">10</text>
<text x="530" y="883" font-size="62.7">-10</text>
<text x="786" y="480" font-size="85">Frequency</text>
<g font-size="78">
<text x="670" y="568">cvw</text><text x="843" y="568">cve</text><text x="1008" y="568">fhw</text><text x="1178" y="568">fhe</text>
</g>
<g font-size="62.7" text-anchor="end">
<text x="669" y="632">18</text><text x="669" y="711">17</text><text x="669" y="790">16</text><text x="669" y="868">15</text><text x="669" y="945">14</text><text x="669" y="1024">13</text><text x="669" y="1102">12</text><text x="669" y="1180">11</text><text x="669" y="1260">10</text><text x="669" y="1338">9</text><text x="669" y="1413">8</text>
</g>
<g font-size="62.7">
<text x="1306" y="632">18</text><text x="1306" y="711">17</text><text x="1306" y="790">16</text><text x="1306" y="868">15</text><text x="1306" y="945">14</text><text x="1306" y="1024">13</text><text x="1306" y="1102">12</text><text x="1306" y="1180">11</text><text x="1306" y="1260">10</text><text x="1320" y="1338">9</text><text x="1320" y="1413">8</text>
</g>
</g>

<!-- titles -->
<text x="60" y="67" font-size="35" textLength="257" lengthAdjust="spacingAndGlyphs">January, 22 2020</text>
<text x="60" y="96" font-size="35" textLength="174" lengthAdjust="spacingAndGlyphs">2322:23 UT</text>
<g font-size="33">
<text x="1003" y="1392">cvw</text><text x="1079" y="1392">cve</text>
<text x="1659" y="1395">fhw</text><text x="1730" y="1395">fhe</text>
</g>
<text x="1078" y="1420" font-size="33" style="fill:#f0f">b15</text>
<text x="1664" y="1423" font-size="33" style="fill:#f0f">b19</text>
</g>
</svg>
</body></html>
